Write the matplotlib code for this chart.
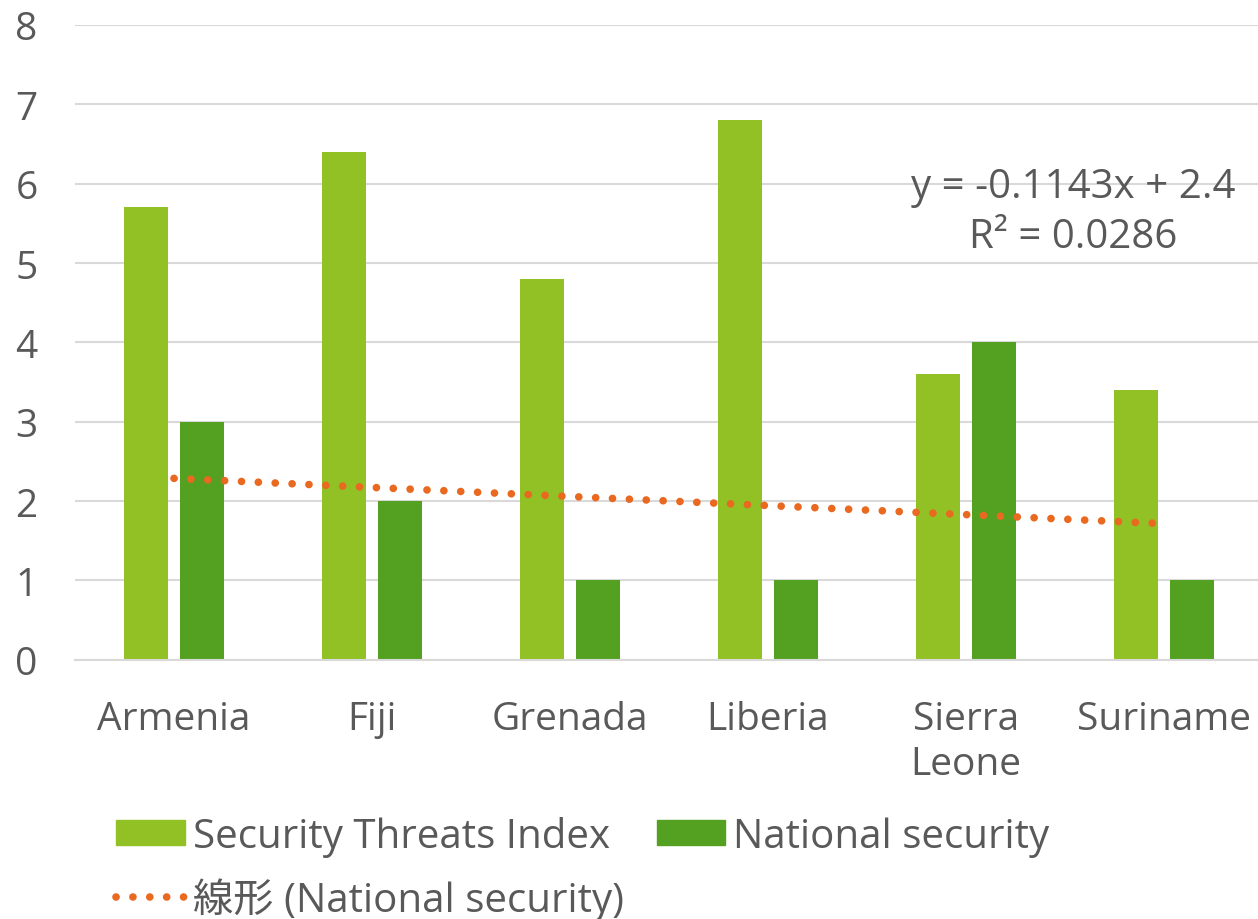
import numpy as np
import matplotlib.pyplot as plt
from matplotlib.patches import Patch
from matplotlib.lines import Line2D

plt.rcParams['font.family'] = ['Open Sans', 'Noto Sans CJK JP', 'DejaVu Sans']

countries = ["Armenia", "Fiji", "Grenada", "Liberia", "Sierra\nLeone", "Suriname"]
threats_index = [5.7, 6.4, 4.8, 6.8, 3.6, 3.4]
national_security = [3, 2, 1, 1, 4, 1]
trend_slope = -0.1143
trend_intercept = 2.4

light_green = "#92C125"
dark_green = "#54A122"
orange = "#E8691F"
text_gray = "#595959"
grid_gray = "#D9D9D9"

W, H = 1258, 920
fig = plt.figure(figsize=(W / 100, H / 100), dpi=100)
ax = fig.add_axes([75 / W, 259.3 / H, 1188 / W, 634.7 / H])

x = np.arange(len(countries))
w = 0.222
off = 0.141
ax.bar(x - off, threats_index, w, color=light_green, zorder=2)
ax.bar(x + off, national_security, w, color=dark_green, zorder=2)

# linear trendline over category index 1..n
xi = np.arange(1, len(countries) + 1)
trend = trend_slope * xi + trend_intercept
dots = (0, (0.01, 2.2))
ax.plot(x, trend, color=orange, linewidth=5.5, linestyle=dots,
        dash_capstyle='round', zorder=3)

fig.text(1073 / W, 1 - 188 / H, "y = -0.1143x + 2.4", ha='center', va='center',
         fontsize=29, color=text_gray)
fig.text(1073 / W, 1 - 238 / H, "R² = 0.0286", ha='center', va='center',
         fontsize=29, color=text_gray)

ax.set_xlim(-0.5, len(countries) - 0.5)
ax.set_ylim(0, 8)
ax.set_yticks(range(0, 9))
ax.set_xticks(x)
ax.set_xticklabels(countries, fontsize=28, color=text_gray, linespacing=1.25)
ax.tick_params(axis='y', labelsize=28, labelcolor=text_gray, length=0, pad=35)
ax.tick_params(axis='x', length=0, pad=29)
for lab in ax.get_yticklabels():
    lab.set_horizontalalignment('center')
ax.grid(axis='y', color=grid_gray, linewidth=1.5, zorder=0)
for s in ['top', 'right', 'left']:
    ax.spines[s].set_visible(False)
ax.spines['bottom'].set_color(grid_gray)
ax.spines['bottom'].set_linewidth(1.5)

handles = [Patch(color=light_green),
           Line2D([0], [0], color=orange, linewidth=5.5, linestyle=dots,
                  dash_capstyle='round'),
           Patch(color=dark_green)]
labels = ["Security Threats Index", "線形 (National security)", "National security"]
fig.legend(handles, labels, ncol=2, loc='lower left', bbox_to_anchor=(80 / W, -38 / H),
           frameon=False, fontsize=29, labelcolor=text_gray, handlelength=1.7,
           handleheight=0.58, handletextpad=0.2, columnspacing=0.82, labelspacing=0.5)

fig.savefig("out.png", dpi=100)
